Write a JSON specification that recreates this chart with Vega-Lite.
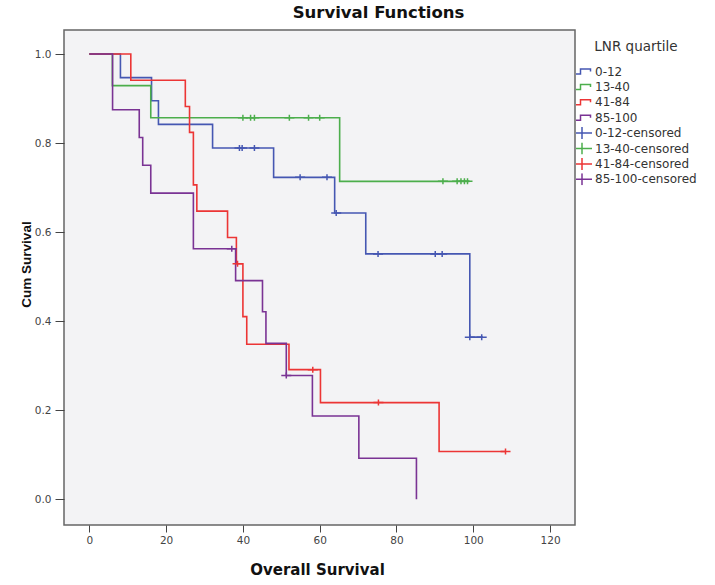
{
  "$schema": "https://vega.github.io/schema/vega-lite/v6.json",
  "autosize": {"type": "none"},
  "width": 511,
  "height": 495,
  "padding": {"left": 64, "top": 30, "right": 140, "bottom": 60},
  "background": "white",
  "title": {
    "text": "Survival Functions",
    "anchor": "middle",
    "dx": 59,
    "font": "DejaVu Sans",
    "fontSize": 16.5,
    "fontWeight": "bold",
    "color": "#111",
    "baseline": "alphabetic",
    "offset": -4
  },
  "config": {
    "view": {"fill": "#f3f3f5", "stroke": "#666", "strokeWidth": 1.5},
    "axis": {"grid": false, "domain": false, "tickColor": "#444", "labelColor": "#444", "labelFont": "DejaVu Sans", "labelFontSize": 10.5}
  },
  "datasets": {
    "curves": [
      {"g": "0-12", "t": 0, "s": 1}, {"g": "0-12", "t": 8.1, "s": 0.947}, {"g": "0-12", "t": 16.2, "s": 0.895}, {"g": "0-12", "t": 18, "s": 0.842}, {"g": "0-12", "t": 32.1, "s": 0.789}, {"g": "0-12", "t": 48, "s": 0.723}, {"g": "0-12", "t": 63.9, "s": 0.643}, {"g": "0-12", "t": 72, "s": 0.551}, {"g": "0-12", "t": 99.1, "s": 0.364}, {"g": "0-12", "t": 102.5, "s": 0.364},
      {"g": "13-40", "t": 0, "s": 1}, {"g": "13-40", "t": 6, "s": 0.929}, {"g": "13-40", "t": 16, "s": 0.857}, {"g": "13-40", "t": 65.2, "s": 0.714}, {"g": "13-40", "t": 99, "s": 0.714},
      {"g": "41-84", "t": 0, "s": 1}, {"g": "41-84", "t": 10.8, "s": 0.941}, {"g": "41-84", "t": 25, "s": 0.882}, {"g": "41-84", "t": 26.1, "s": 0.824}, {"g": "41-84", "t": 27.1, "s": 0.706}, {"g": "41-84", "t": 28, "s": 0.647}, {"g": "41-84", "t": 36, "s": 0.588}, {"g": "41-84", "t": 38.3, "s": 0.529}, {"g": "41-84", "t": 40, "s": 0.41}, {"g": "41-84", "t": 41, "s": 0.348}, {"g": "41-84", "t": 52, "s": 0.291}, {"g": "41-84", "t": 60.2, "s": 0.217}, {"g": "41-84", "t": 91.1, "s": 0.107}, {"g": "41-84", "t": 108.5, "s": 0.107},
      {"g": "85-100", "t": 0, "s": 1}, {"g": "85-100", "t": 6.05, "s": 0.875}, {"g": "85-100", "t": 13, "s": 0.8125}, {"g": "85-100", "t": 13.9, "s": 0.75}, {"g": "85-100", "t": 16, "s": 0.6875}, {"g": "85-100", "t": 27.1, "s": 0.5625}, {"g": "85-100", "t": 38.1, "s": 0.491}, {"g": "85-100", "t": 45.1, "s": 0.421}, {"g": "85-100", "t": 46, "s": 0.35}, {"g": "85-100", "t": 51.3, "s": 0.278}, {"g": "85-100", "t": 58.1, "s": 0.187}, {"g": "85-100", "t": 70.2, "s": 0.092}, {"g": "85-100", "t": 85.2, "s": 0}
    ],
    "censors": [
      {"g": "0-12-censored", "t": 39.1, "s": 0.789}, {"g": "0-12-censored", "t": 39.8, "s": 0.789}, {"g": "0-12-censored", "t": 43, "s": 0.789}, {"g": "0-12-censored", "t": 54.9, "s": 0.723}, {"g": "0-12-censored", "t": 61.9, "s": 0.723}, {"g": "0-12-censored", "t": 64.3, "s": 0.643}, {"g": "0-12-censored", "t": 75.2, "s": 0.551}, {"g": "0-12-censored", "t": 90.1, "s": 0.551}, {"g": "0-12-censored", "t": 91.9, "s": 0.551}, {"g": "0-12-censored", "t": 99.1, "s": 0.364}, {"g": "0-12-censored", "t": 102.2, "s": 0.364},
      {"g": "13-40-censored", "t": 40, "s": 0.857}, {"g": "13-40-censored", "t": 42, "s": 0.857}, {"g": "13-40-censored", "t": 43, "s": 0.857}, {"g": "13-40-censored", "t": 52.1, "s": 0.857}, {"g": "13-40-censored", "t": 57.1, "s": 0.857}, {"g": "13-40-censored", "t": 60, "s": 0.857}, {"g": "13-40-censored", "t": 92.1, "s": 0.714}, {"g": "13-40-censored", "t": 95.8, "s": 0.714}, {"g": "13-40-censored", "t": 96.8, "s": 0.714}, {"g": "13-40-censored", "t": 97.7, "s": 0.714}, {"g": "13-40-censored", "t": 98.5, "s": 0.714},
      {"g": "41-84-censored", "t": 38.6, "s": 0.529}, {"g": "41-84-censored", "t": 58.2, "s": 0.291}, {"g": "41-84-censored", "t": 75.3, "s": 0.217}, {"g": "41-84-censored", "t": 108.4, "s": 0.107},
      {"g": "85-100-censored", "t": 37.1, "s": 0.5625}, {"g": "85-100-censored", "t": 51.3, "s": 0.278}
    ]
  },
  "encoding": {
    "x": {
      "field": "t", "type": "quantitative",
      "scale": {"domain": [-6.6, 126.5], "nice": false, "zero": false},
      "axis": {"values": [0, 20, 40, 60, 80, 100, 120], "tickSize": 7, "labelPadding": 3, "title": "Overall Survival", "titleFont": "DejaVu Sans", "titleFontSize": 15, "titleFontWeight": "bold", "titleColor": "#111", "titleX": 253, "titleY": 44, "titleBaseline": "middle", "titleAlign": "center"}
    },
    "y": {
      "field": "s", "type": "quantitative",
      "scale": {"domain": [-0.058, 1.054], "nice": false, "zero": false},
      "axis": {"values": [0, 0.2, 0.4, 0.6, 0.8, 1], "format": ".1f", "tickSize": 9, "labelPadding": 4, "title": "Cum Survival", "titleFont": "Liberation Sans", "titleFontSize": 13.5, "titleFontWeight": "bold", "titleColor": "#111", "titleX": -38, "titleY": 234, "titleAngle": -90, "titleBaseline": "middle", "titleAlign": "center"}
    }
  },
  "layer": [
    {
      "data": {"name": "curves"},
      "mark": {"type": "line", "interpolate": "step-after", "strokeWidth": 1.6},
      "encoding": {
        "color": {
          "field": "g", "type": "nominal",
          "scale": {
            "domain": ["0-12", "13-40", "41-84", "85-100", "0-12-censored", "13-40-censored", "41-84-censored", "85-100-censored"],
            "range": ["#4557b2", "#4cae4c", "#ec3535", "#7a3394", "#4557b2", "#4cae4c", "#ec3535", "#7a3394"]
          },
          "legend": {"title": "LNR quartile", "orient": "none", "legendX": 512, "legendY": 10, "padding": 0, "titleFont": "DejaVu Sans", "titleFontSize": 13.5, "titleFontWeight": "normal", "titleColor": "#333", "titleAnchor": "middle", "titlePadding": 12, "labelFont": "DejaVu Sans", "labelFontSize": 12, "labelColor": "#333", "labelOffset": 7, "symbolSize": 100, "symbolStrokeWidth": 1.5, "symbolFillColor": "transparent", "rowPadding": 3.4, "clipHeight": 12}
        }
      }
    },
    {
      "data": {"name": "censors"},
      "mark": {"type": "point", "filled": false, "size": 25, "strokeWidth": 1.5, "opacity": 1},
      "encoding": {
        "color": {"field": "g", "type": "nominal"},
        "shape": {
          "field": "g", "type": "nominal",
          "scale": {
            "domain": ["0-12", "13-40", "41-84", "85-100", "0-12-censored", "13-40-censored", "41-84-censored", "85-100-censored"],
            "range": ["M-2,0.5H-0.3V-0.5H1.7V0", "M-2,0.5H-0.3V-0.5H1.7V0", "M-2,0.5H-0.3V-0.5H1.7V0", "M-2,0.5H-0.3V-0.5H1.7V0", "M-2,0H2M0,-1.2V1.2", "M-2,0H2M0,-1.2V1.2", "M-2,0H2M0,-1.2V1.2", "M-2,0H2M0,-1.2V1.2"]
          },
          "legend": {"title": "LNR quartile", "orient": "none", "legendX": 512, "legendY": 10, "padding": 0, "titleFont": "DejaVu Sans", "titleFontSize": 13.5, "titleFontWeight": "normal", "titleColor": "#333", "titleAnchor": "middle", "titlePadding": 12, "labelFont": "DejaVu Sans", "labelFontSize": 12, "labelColor": "#333", "labelOffset": 7, "symbolSize": 100, "symbolStrokeWidth": 1.5, "symbolFillColor": "transparent", "rowPadding": 3.4, "clipHeight": 12}
        }
      }
    }
  ]
}
